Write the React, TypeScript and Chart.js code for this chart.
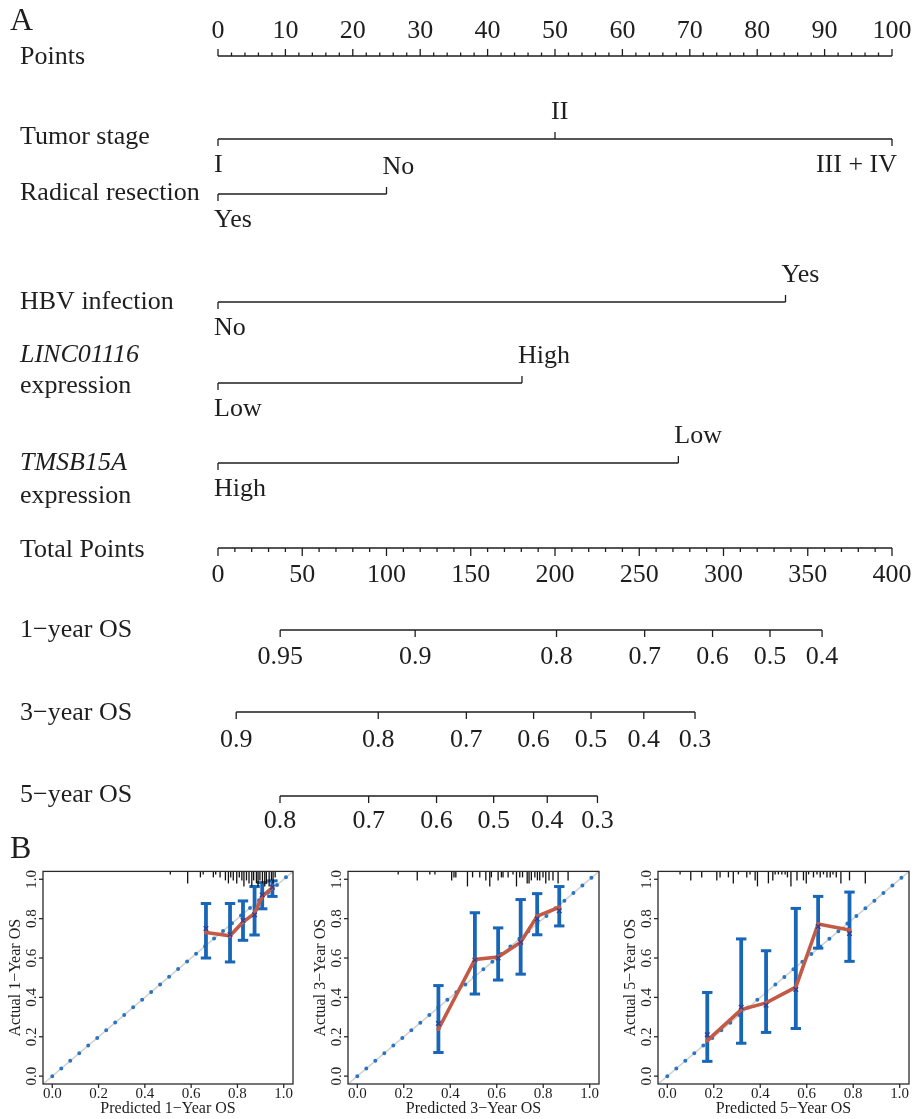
import React, { useEffect, useRef } from "react";
import { Chart, registerables } from "chart.js";
Chart.register(...registerables);

const FONT = '"Liberation Serif", "Times New Roman", serif';
const INK = "#1e1e1e";

// ================= Panel A data (nomogram) =================
const pointsTicks = [0, 10, 20, 30, 40, 50, 60, 70, 80, 90, 100];
const totalTicks = [0, 50, 100, 150, 200, 250, 300, 350, 400];

const tumorLevels = ["I", "II", "III + IV"];
const tumorPoints = [0, 50, 100];
const radicalLevels = ["Yes", "No"];
const radicalPoints = [0, 25];
const hbvLevels = ["No", "Yes"];
const hbvPoints = [0, 84.2];
const lincLevels = ["Low", "High"];
const lincPoints = [0, 45.1];
const tmsbLevels = ["High", "Low"];
const tmsbPoints = [0, 68.3];

const os1Labels = ["0.95", "0.9", "0.8", "0.7", "0.6", "0.5", "0.4"];
const os1Total = [36.9, 117.0, 200.9, 253.2, 293.5, 327.6, 358.5];
const os3Labels = ["0.9", "0.8", "0.7", "0.6", "0.5", "0.4", "0.3"];
const os3Total = [10.8, 95.1, 147.4, 187.3, 221.4, 252.7, 283.1];
const os5Labels = ["0.8", "0.7", "0.6", "0.5", "0.4", "0.3"];
const os5Total = [36.8, 89.4, 129.7, 163.6, 195.4, 225.2];

// ================= Panel B data (calibration) =================
const calTicks = [0, 0.2, 0.4, 0.6, 0.8, 1.0];
const calTickLabels = ["0.0", "0.2", "0.4", "0.6", "0.8", "1.0"];

const pred1 = [0.664, 0.768, 0.824, 0.874, 0.907, 0.951];
const obs1 = [0.73, 0.713, 0.783, 0.827, 0.913, 0.958];
const lo1 = [0.6, 0.58, 0.69, 0.717, 0.85, 0.913];
const hi1 = [0.877, 0.877, 0.89, 0.963, 0.983, 0.992];
const km1 = [0.75, 0.72, 0.79, 0.82, 0.92, 0.96];
const rugX1 = [0.51, 0.585, 0.64, 0.652, 0.696, 0.706, 0.725, 0.748, 0.761, 0.771, 0.782, 0.797, 0.808, 0.819, 0.828, 0.839, 0.85, 0.862, 0.87, 0.882, 0.889, 0.897, 0.908, 0.918, 0.925, 0.937, 0.947, 0.954, 0.963];
const rugN1 = [1, 4, 2, 1, 2, 1, 2, 3, 4, 2, 3, 4, 2, 3, 5, 3, 4, 5, 3, 4, 5, 3, 4, 5, 4, 5, 3, 4, 2];

const pred3 = [0.349, 0.506, 0.606, 0.703, 0.774, 0.869];
const obs3 = [0.238, 0.593, 0.605, 0.68, 0.813, 0.858];
const lo3 = [0.12, 0.417, 0.488, 0.518, 0.718, 0.763];
const hi3 = [0.46, 0.83, 0.753, 0.897, 0.927, 0.963];
const km3 = [0.267, 0.59, 0.6, 0.68, 0.8, 0.84];
const rugX3 = [0.176, 0.258, 0.312, 0.334, 0.406, 0.416, 0.424, 0.474, 0.496, 0.527, 0.553, 0.57, 0.577, 0.606, 0.62, 0.627, 0.649, 0.67, 0.685, 0.699, 0.711, 0.731, 0.739, 0.749, 0.764, 0.775, 0.785, 0.799, 0.811, 0.825, 0.842, 0.864, 0.907];
const rugN3 = [1, 3, 1, 1, 3, 2, 2, 5, 2, 2, 3, 5, 2, 3, 2, 2, 2, 1, 5, 2, 2, 4, 4, 3, 2, 3, 3, 2, 4, 3, 3, 4, 3];

const pred5 = [0.172, 0.318, 0.425, 0.553, 0.649, 0.784];
const obs5 = [0.18, 0.338, 0.372, 0.452, 0.773, 0.742];
const lo5 = [0.075, 0.167, 0.222, 0.242, 0.65, 0.583];
const hi5 = [0.425, 0.697, 0.637, 0.852, 0.913, 0.935];
const km5 = [0.21, 0.35, 0.36, 0.44, 0.76, 0.725];
const rugX5 = [0.055, 0.101, 0.148, 0.213, 0.227, 0.263, 0.284, 0.306, 0.342, 0.356, 0.378, 0.388, 0.435, 0.454, 0.464, 0.478, 0.493, 0.507, 0.517, 0.532, 0.558, 0.586, 0.598, 0.608, 0.629, 0.644, 0.658, 0.672, 0.687, 0.701, 0.713, 0.727, 0.747, 0.784, 0.852];
const rugN5 = [1, 3, 2, 3, 2, 2, 4, 1, 2, 1, 3, 5, 4, 3, 1, 1, 1, 1, 2, 5, 3, 3, 4, 1, 2, 1, 2, 1, 2, 2, 1, 2, 4, 3, 4];

// ================= Layout (pixels) =================
const VS_A = 1.0;
const A_SIZE = 26;
const LAYOUT_A = {
  height: 866,
  padLeft: 218,
  padRight: 24,
  pointsY: 56,
  pointsLabelY: 31,
  totalY: 548,
  totalLabelY: 575,
};
const VAR_ROWS = [
  { name: ["Tumor stage"], italic: [false], nameY: [137], lineY: 139, levels: tumorLevels, pts: tumorPoints },
  { name: ["Radical resection"], italic: [false], nameY: [193], lineY: 194, levels: radicalLevels, pts: radicalPoints },
  { name: ["HBV infection"], italic: [false], nameY: [302], lineY: 302, levels: hbvLevels, pts: hbvPoints },
  { name: ["LINC01116", "expression"], italic: [true, false], nameY: [355, 386], lineY: 383, levels: lincLevels, pts: lincPoints },
  { name: ["TMSB15A", "expression"], italic: [true, false], nameY: [463, 496], lineY: 463, levels: tmsbLevels, pts: tmsbPoints },
];
const OS_ROWS = [
  { name: "1\u2212year OS", nameY: 630, lineY: 630, labY: 657, labels: os1Labels, tot: os1Total },
  { name: "3\u2212year OS", nameY: 713, lineY: 712, labY: 740, labels: os3Labels, tot: os3Total },
  { name: "5\u2212year OS", nameY: 795, lineY: 796, labY: 821, labels: os5Labels, tot: os5Total },
];

function txt(ctx: CanvasRenderingContext2D, s: string, x: number, y: number, o: any = {}) {
  const { size = A_SIZE, align = "left", italic = false, vs = 1, rot = 0, hs = 1 } = o;
  ctx.save();
  ctx.translate(x, y);
  if (rot) ctx.rotate(rot);
  ctx.scale(hs, vs);
  ctx.font = `${italic ? "italic " : ""}${size}px ${FONT}`;
  ctx.fillStyle = INK;
  ctx.textAlign = align;
  ctx.textBaseline = "middle";
  ctx.fillText(s, 0, 0);
  ctx.restore();
}
function seg(ctx: CanvasRenderingContext2D, x0: number, y0: number, x1: number, y1: number) {
  ctx.beginPath();
  ctx.moveTo(x0, y0);
  ctx.lineTo(x1, y1);
  ctx.stroke();
}

function Nomogram() {
  const ref = useRef<HTMLCanvasElement>(null);
  useEffect(() => {
    const rowLine = (axis: string, x0: number, x1: number, y: number) => ({
      data: [{ x: x0, y }, { x: x1, y }],
      xAxisID: axis,
      yAxisID: "y",
      showLine: true,
      borderColor: INK,
      borderWidth: 1.3,
      pointRadius: 0,
    });
    const datasets: any[] = [
      rowLine("x", pointsTicks[0], pointsTicks[pointsTicks.length - 1], LAYOUT_A.pointsY),
      ...VAR_ROWS.map((r) => rowLine("x", Math.min(...r.pts), Math.max(...r.pts), r.lineY)),
      rowLine("tp", totalTicks[0], totalTicks[totalTicks.length - 1], LAYOUT_A.totalY),
      ...OS_ROWS.map((r) => rowLine("tp", r.tot[0], r.tot[r.tot.length - 1], r.lineY)),
    ];
    const plugin = {
      id: "nomoText",
      afterDatasetsDraw(chart: any) {
        const ctx = chart.ctx as CanvasRenderingContext2D;
        const xs = chart.scales.x, tps = chart.scales.tp, ys = chart.scales.y;
        ctx.save();
        ctx.strokeStyle = INK;
        ctx.lineWidth = 1.3;
        // Panel letters
        txt(ctx, "A", 10, ys.getPixelForValue(22), { size: 32, vs: VS_A });
        txt(ctx, "B", 10, ys.getPixelForValue(850), { size: 32, vs: VS_A });
        // Points axis
        const pY = ys.getPixelForValue(LAYOUT_A.pointsY);
        for (let v = pointsTicks[0]; v <= pointsTicks[pointsTicks.length - 1] + 1e-9; v += 2) {
          const px = xs.getPixelForValue(v);
          seg(ctx, px, pY, px, pY - (v % 10 === 0 ? 7 : 3.5));
        }
        pointsTicks.forEach((v) => txt(ctx, String(v), xs.getPixelForValue(v), ys.getPixelForValue(LAYOUT_A.pointsLabelY), { align: "center", vs: VS_A }));
        txt(ctx, "Points", 20, ys.getPixelForValue(57), { vs: VS_A });
        // Variable rows
        VAR_ROWS.forEach((r) => {
          r.name.forEach((n, i) => txt(ctx, n, 20, ys.getPixelForValue(r.nameY[i]), { italic: r.italic[i], vs: VS_A }));
          const ly = ys.getPixelForValue(r.lineY);
          const maxP = Math.max(...r.pts);
          r.pts.forEach((p, i) => {
            const px = xs.getPixelForValue(p);
            const above = i % 2 === 1;
            seg(ctx, px, ly, px, ly + (above ? -7 : 7));
            const ty = ys.getPixelForValue(r.lineY + (above ? -27 : 26));
            const last = p === maxP && p >= 99;
            txt(ctx, r.levels[i], last ? px + 5 : px - 4, ty, { align: last ? "right" : "left", vs: VS_A });
          });
        });
        // Total points axis
        const tY = ys.getPixelForValue(LAYOUT_A.totalY);
        for (let v = totalTicks[0]; v <= totalTicks[totalTicks.length - 1] + 1e-9; v += 10) {
          const px = tps.getPixelForValue(v);
          seg(ctx, px, tY, px, tY + (v % 50 === 0 ? 8 : 4));
        }
        totalTicks.forEach((v) => txt(ctx, String(v), tps.getPixelForValue(v), ys.getPixelForValue(LAYOUT_A.totalLabelY), { align: "center", vs: VS_A }));
        txt(ctx, "Total Points", 20, ys.getPixelForValue(550), { vs: VS_A });
        // Probability axes
        OS_ROWS.forEach((r) => {
          txt(ctx, r.name, 20, ys.getPixelForValue(r.nameY), { vs: VS_A });
          const ly = ys.getPixelForValue(r.lineY);
          r.tot.forEach((t, i) => {
            const px = tps.getPixelForValue(t);
            seg(ctx, px, ly, px, ly + 7);
            txt(ctx, r.labels[i], px, ys.getPixelForValue(r.labY), { align: "center", vs: VS_A });
          });
        });
        ctx.restore();
      },
    };
    const chart = new Chart(ref.current as HTMLCanvasElement, {
      type: "scatter",
      data: { datasets },
      options: {
        animation: false,
        responsive: false,
        events: [],
        layout: { padding: { left: LAYOUT_A.padLeft, right: LAYOUT_A.padRight, top: 0, bottom: 0 } },
        scales: {
          x: { type: "linear", min: 0, max: 100, display: false },
          tp: { type: "linear", axis: "x", position: "bottom", min: 0, max: 400, display: false },
          y: { type: "linear", min: 0, max: LAYOUT_A.height, reverse: true, display: false },
        },
        plugins: { legend: { display: false }, tooltip: { enabled: false } },
      } as any,
      plugins: [plugin],
    });
    return () => chart.destroy();
  }, []);
  return <canvas ref={ref} width={916} height={LAYOUT_A.height} style={{ position: "absolute", left: 0, top: 0 }} />;
}

const BLUE = "#1766b8";
const DOT_BLUE = "#2a74c4";
const RED = "#c35a45";
const MARK = "#2c3f99";

function CalPlot(props: any) {
  const ref = useRef<HTMLCanvasElement>(null);
  const { left, width, padLeft, pred, obs, lo, hi, km, rugX, rugN, xTitle, yTitle } = props;
  const top = 866;
  const height = 253;
  useEffect(() => {
    const datasets: any[] = [
      { data: [{ x: -0.04, y: -0.04 }, { x: 1.04, y: 1.04 }], showLine: true, borderColor: "#d2d2d2", borderWidth: 1.6, pointRadius: 0, order: 10 },
      { data: [{ x: 0, y: 0 }, { x: 1.04, y: 1.04 }], showLine: true, borderColor: DOT_BLUE, borderWidth: 4, borderDash: [0, 11.8], borderCapStyle: "round", pointRadius: 0, order: 9 },
      { data: pred.map((p: number, i: number) => ({ x: p, y: obs[i] })), showLine: true, borderColor: RED, borderWidth: 3.6, pointRadius: 2, pointBackgroundColor: RED, pointBorderWidth: 0, order: 2 },
      { data: pred.map((p: number, i: number) => ({ x: p, y: km[i] })), showLine: false, pointStyle: "crossRot", pointRadius: 3.2, borderColor: MARK, borderWidth: 1.4, order: 1 },
    ];
    const plugin = {
      id: "calDecor",
      beforeDatasetDraw(chart: any, args: any) {
        if (args.index !== 2) return;
        const ctx = chart.ctx as CanvasRenderingContext2D;
        const xs = chart.scales.x, ys = chart.scales.y;
        ctx.save();
        ctx.strokeStyle = BLUE;
        ctx.lineCap = "butt";
        pred.forEach((p: number, i: number) => {
          const px = xs.getPixelForValue(p);
          const y0 = ys.getPixelForValue(lo[i]);
          const y1 = ys.getPixelForValue(hi[i]);
          ctx.lineWidth = 3.8;
          seg(ctx, px, y0, px, y1);
          ctx.lineWidth = 3;
          seg(ctx, px - 5.2, y0, px + 5.2, y0);
          seg(ctx, px - 5.2, y1, px + 5.2, y1);
        });
        ctx.restore();
      },
      afterDraw(chart: any) {
        const ctx = chart.ctx as CanvasRenderingContext2D;
        const xs = chart.scales.x, ys = chart.scales.y;
        const a = chart.chartArea;
        ctx.save();
        // rug (spike histogram) hanging from top
        ctx.strokeStyle = "#111";
        ctx.lineWidth = 1.3;
        rugX.forEach((v: number, i: number) => {
          const px = xs.getPixelForValue(v);
          seg(ctx, px, a.top, px, a.top + rugN[i] * 3);
        });
        // frame
        ctx.strokeStyle = "#2a2a2a";
        ctx.lineWidth = 1.3;
        ctx.strokeRect(a.left, a.top, a.right - a.left, a.bottom - a.top);
        // ticks + labels
        calTicks.forEach((v, i) => {
          const px = xs.getPixelForValue(v);
          seg(ctx, px, a.bottom, px, a.bottom + 4);
          txt(ctx, calTickLabels[i], px, a.bottom + 10, { size: 15, align: "center" });
          const py = ys.getPixelForValue(v);
          seg(ctx, a.left, py, a.left - 4, py);
          txt(ctx, calTickLabels[i], a.left - 11, py, { size: 15, align: "center", rot: -Math.PI / 2 });
        });
        txt(ctx, xTitle, (a.left + a.right) / 2, a.bottom + 25, { size: 16, align: "center" });
        txt(ctx, yTitle, a.left - 27, (a.top + a.bottom) / 2, { size: 16, align: "center", rot: -Math.PI / 2 });
        ctx.restore();
      },
    };
    const chart = new Chart(ref.current as HTMLCanvasElement, {
      type: "scatter",
      data: { datasets },
      options: {
        animation: false,
        responsive: false,
        events: [],
        layout: { padding: { left: padLeft, right: 7, top: 2, bottom: 35 } },
        scales: {
          x: { type: "linear", min: -0.04, max: 1.04, display: false },
          y: { type: "linear", min: -0.04, max: 1.04, display: false },
        },
        plugins: { legend: { display: false }, tooltip: { enabled: false } },
      } as any,
      plugins: [plugin],
    });
    return () => chart.destroy();
  }, []);
  return <canvas ref={ref} width={width} height={height} style={{ position: "absolute", left, top }} />;
}

export default function App() {
  return (
    <div style={{ position: "absolute", left: 0, top: 0, width: 916, height: 1119, background: "#fff" }}>
      <Nomogram />
      <CalPlot left={0} width={300} padLeft={43} pred={pred1} obs={obs1} lo={lo1} hi={hi1} km={km1} rugX={rugX1} rugN={rugN1}
        xTitle={"Predicted 1\u2212Year OS"} yTitle={"Actual 1\u2212Year OS"} />
      <CalPlot left={300} width={306} padLeft={48} pred={pred3} obs={obs3} lo={lo3} hi={hi3} km={km3} rugX={rugX3} rugN={rugN3}
        xTitle={"Predicted 3\u2212Year OS"} yTitle={"Actual 3\u2212Year OS"} />
      <CalPlot left={610} width={306} padLeft={48} pred={pred5} obs={obs5} lo={lo5} hi={hi5} km={km5} rugX={rugX5} rugN={rugN5}
        xTitle={"Predicted 5\u2212Year OS"} yTitle={"Actual 5\u2212Year OS"} />
    </div>
  );
}
